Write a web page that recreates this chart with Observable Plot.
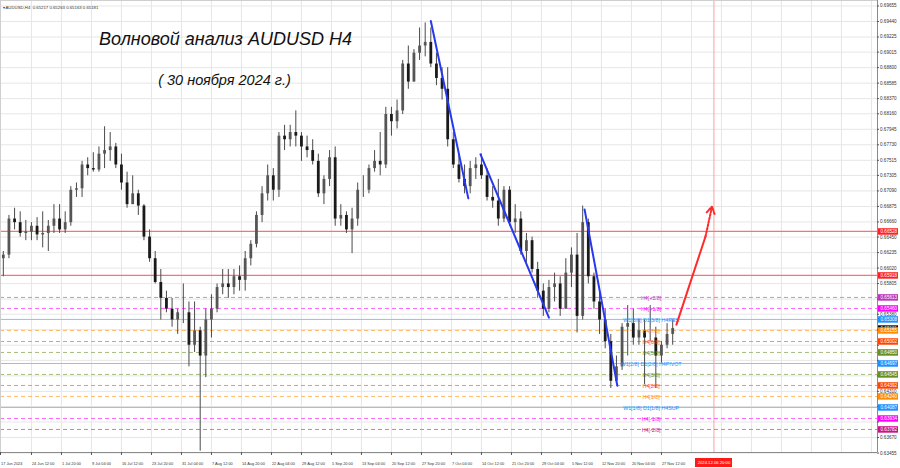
<!DOCTYPE html>
<html><head><meta charset="utf-8">
<script src="https://cdn.jsdelivr.net/npm/d3@7"></script>
<script src="https://cdn.jsdelivr.net/npm/@observablehq/plot@0.6"></script>
<style>html,body{margin:0;padding:0;background:#fff;overflow:hidden}</style>
</head><body><div id="chart"></div>
<script>
// ---- daily OHLC (one candle per trading day from 17 Jun 2024) ----
const opens  = [.6615,.6620,.6670,.6665,.6650,.6652,.6660,.6648,.6650,.6660,.6670,.6655,.6665,.6710,.6712,.6745,.6740,.6738,.6760,.6765,.6770,.6745,.6720,.6690,.6705,.6688,.6645,.6615,.6582,.6560,.6545,.6530,.6540,.6540,.6495,.6515,.6480,.6530,.6545,.6575,.6580,.6575,.6590,.6585,.6615,.6635,.6675,.6705,.6730,.6710,.6785,.6780,.6790,.6785,.6770,.6765,.6750,.6705,.6725,.6755,.6670,.6675,.6655,.6670,.6710,.6710,.6740,.6750,.6745,.6815,.6805,.6820,.6885,.6860,.6900,.6910,.6915,.6885,.6865,.6850,.6780,.6745,.6725,.6715,.6740,.6745,.6730,.6700,.6695,.6670,.6710,.6665,.6670,.6625,.6640,.6600,.6570,.6545,.6575,.6580,.6545,.6595,.6620,.6535,.6665,.6590,.6555,.6530,.6500,.6445,.6465,.6520,.6525,.6505,.6515,.6505,.6505,.6480,.6495,.6510];
const highs  = [.6625,.6675,.6685,.6680,.6668,.6665,.6672,.6680,.6668,.6690,.6690,.6680,.6715,.6720,.6750,.6755,.6762,.6770,.6798,.6790,.6775,.6760,.6735,.6730,.6710,.6690,.6655,.6625,.6600,.6570,.6560,.6545,.6580,.6555,.6555,.6520,.6545,.6565,.6580,.6600,.6600,.6600,.6605,.6625,.6640,.6680,.6715,.6745,.6740,.6790,.6800,.6800,.6820,.6790,.6785,.6780,.6760,.6730,.6765,.6770,.6690,.6680,.6685,.6720,.6730,.6745,.6765,.6790,.6825,.6825,.6835,.6890,.6910,.6905,.6935,.6942,.6935,.6900,.6880,.6880,.6790,.6760,.6745,.6750,.6755,.6760,.6740,.6715,.6725,.6715,.6715,.6690,.6680,.6650,.6645,.6610,.6580,.6585,.6595,.6590,.6615,.6630,.6650,.6688,.6670,.6595,.6570,.6545,.6510,.6480,.6525,.6550,.6545,.6530,.6530,.6550,.6520,.6500,.6525,.6530];
const lows   = [.6590,.6615,.6655,.6645,.6640,.6640,.6640,.6630,.6625,.6650,.6650,.6650,.6660,.6700,.6700,.6730,.6735,.6735,.6740,.6750,.6740,.6710,.6685,.6690,.6675,.6640,.6610,.6580,.6530,.6540,.6520,.6510,.6525,.6465,.6485,.6348,.6450,.6505,.6540,.6565,.6560,.6565,.6570,.6570,.6605,.6630,.6665,.6695,.6695,.6700,.6765,.6770,.6770,.6750,.6755,.6745,.6700,.6690,.6715,.6660,.6660,.6650,.6622,.6660,.6700,.6705,.6735,.6730,.6740,.6785,.6795,.6815,.6850,.6860,.6890,.6895,.6880,.6855,.6835,.6770,.6740,.6720,.6705,.6705,.6725,.6725,.6695,.6685,.6660,.6665,.6660,.6650,.6620,.6610,.6595,.6560,.6535,.6540,.6555,.6535,.6545,.6575,.6512,.6530,.6580,.6545,.6510,.6490,.6435,.6440,.6460,.6480,.6495,.6495,.6440,.6500,.6435,.6470,.6490,.6495];
const closes = [.6620,.6670,.6665,.6650,.6652,.6660,.6648,.6650,.6660,.6670,.6655,.6665,.6710,.6712,.6745,.6740,.6738,.6760,.6765,.6770,.6745,.6720,.6690,.6705,.6688,.6645,.6615,.6582,.6560,.6545,.6530,.6540,.6540,.6495,.6515,.6480,.6530,.6545,.6575,.6580,.6575,.6590,.6585,.6615,.6635,.6675,.6705,.6730,.6710,.6785,.6780,.6790,.6785,.6770,.6765,.6750,.6705,.6725,.6755,.6670,.6675,.6655,.6670,.6710,.6710,.6740,.6750,.6745,.6815,.6805,.6820,.6885,.6860,.6900,.6910,.6915,.6885,.6865,.6850,.6780,.6745,.6725,.6715,.6740,.6745,.6730,.6700,.6695,.6670,.6710,.6665,.6670,.6625,.6640,.6600,.6570,.6545,.6575,.6580,.6545,.6595,.6620,.6535,.6665,.6590,.6555,.6530,.6500,.6445,.6465,.6520,.6525,.6505,.6515,.6505,.6505,.6480,.6495,.6510,.65181];

// ---- time axis (H4 bar numbers counted from 17 Jun 2024 00:00) ----
const timeLabels = ["17 Jun 2024","24 Jun 12:00","1 Jul 20:00","9 Jul 04:00","16 Jul 12:00","23 Jul 20:00","31 Jul 04:00","7 Aug 12:00","14 Aug 20:00","22 Aug 04:00","29 Aug 12:00","5 Sep 20:00","13 Sep 04:00","20 Sep 12:00","27 Sep 20:00","7 Oct 04:00","14 Oct 12:00","21 Oct 20:00","29 Oct 04:00","5 Nov 12:00","12 Nov 20:00","20 Nov 04:00","27 Nov 12:00"];
const timeBars = [0,33,65,97,129,161,193,225,257,289,321,353,385,417,449,481,513,545,577,609,641,673,705];
const futureGridBars = [737,769,801,833,865,897,929];
const futureBar = 761, futureLabel = "2024.12.06 20:00";

// ---- price axis ----
const priceTicks = [0.69655,0.69440,0.69225,0.69015,0.68800,0.68585,0.68370,0.68160,0.67945,0.67730,0.67515,0.67305,0.67090,0.66875,0.66660,0.66450,0.66235,0.66020,0.65805,0.65590,0.65380,0.65165,0.64950,0.64740,0.64525,0.64310,0.64100,0.63885,0.63670,0.63455];

// ---- levels ----
const levelPrices = [0.66528,0.65918,0.65613,0.65460,0.65308,0.65155,0.65002,0.64850,0.64697,0.64545,0.64392,0.64240,0.64087,0.63934,0.63782];
const levelNames  = ["W","W","H4[+2/8]","H4[+1/8]","W1[3/8] D1[3/8] H4RES","H4[7/8]","H4[6/8]","H4[5/8]","W1[2/8] D1[2/8] H4PIVOT","H4[3/8]","H4[2/8]","H4[1/8]","W1[1/8] D1[1/8] H4SUP","H4[-1/8]","H4[-2/8]"];
const lastPrice = 0.65181;

// ---- wave markup (bar, price) ----
const waveBars   = [459,499, 512,585, 623,658];
const wavePrices = [0.69447,0.66987, 0.67598,0.65333, 0.66834,0.64387];
const waveIds    = [1,1,2,2,3,3];
const projBars   = [721,752,759];
const projPrices = [0.65235,0.66458,0.66875];

// ---------------- styling ----------------
function levelColor(n){
  if (n === "W") return "#ff2020";
  if (n.startsWith("W1")) return "#1e90ff";
  if (n.includes("+2/8]")) return "#bb36bb";
  if (n.includes("-2/8]")) return "#c71585";
  if (n.includes("+1/8]") || n.includes("-1/8]")) return "#ff00ff";
  if (n.includes("[7/8]") || n.includes("[1/8]")) return "#ff8c00";
  if (n.includes("[6/8]") || n.includes("[2/8]")) return "#ff4500";
  return "#6b8e23";
}
const pale = (c, t) => d3.interpolateRgb(c, "#ffffff")(t);
const levels = levelPrices.map((p,i)=>{
  const name = levelNames[i];
  const color = levelColor(name);
  const dashed = !(name==="W" || name.startsWith("W1"));
  return {p, name, color, dashed, line: name==="W" ? "#ff7070" : pale(color, dashed ? 0.4 : 0.45)};
});
const candles = opens.map((o,i)=>({bar: 6*i+3, o, h: highs[i], l: lows[i], c: closes[i]}));
const waves = waveBars.map((b,i)=>({bar: b, p: wavePrices[i], id: waveIds[i]}));

const W = 900, H = 468, mR = 23, mB = 16;
const plotW = W - mR, plotH = H - mB;
const barPx = 0.9375;
const xMax = plotW / barPx;
const pxPerUnit = 7210;
const yTop = 0.69655 + 5.5 / pxPerUnit;
const yBot = yTop - plotH / pxPerUnit;
const bx = px => px / barPx;           // pixel -> bar units (for annotation boxes)
const py = px => yTop - px / pxPerUnit; // pixel -> price units
const small = "Liberation Sans, Arial, sans-serif";
const labelMap = new Map(timeBars.map((b,i)=>[b, timeLabels[i]]));

const boxes = [{p: lastPrice, color: "#000000", text: lastPrice.toFixed(5)}]
  .concat(levels.map(d=>({p: d.p, color: d.color, text: d.p.toFixed(5)})));
const tickMin = 5 / pxPerUnit;
const visibleTicks = priceTicks.filter(t => boxes.every(b => Math.abs(b.p - t) >= tickMin));

const levelMarks = levels.map(d => Plot.ruleY([d.p], {y: v => v, stroke: d.line, strokeWidth: d.name === "W" ? 1.2 : 1, strokeDasharray: d.dashed ? "4,3" : null}));
const levelLabelMarks = levels.filter(d => d.name !== "W").map(d =>
  Plot.text([d.p], {x: () => 694, y: v => v, text: () => d.name, fill: d.color, fontSize: 5.3, dy: 0.5}));
const boxMarks = boxes.flatMap(d => [
  Plot.ruleY([d.p], {y: v => v, x1: () => bx(878), x2: () => bx(898), stroke: d.color, strokeWidth: 6.5}),
  Plot.text([d.p], {x: () => bx(880), y: v => v, text: () => d.text, textAnchor: "start", fontSize: 4.6, fill: "#fff"})
]);

const chart = Plot.plot({
  width: W, height: H,
  marginLeft: 0, marginRight: mR, marginTop: 0, marginBottom: mB,
  style: {background: "#fff", fontFamily: small, overflow: "visible"},
  x: {type: "linear", domain: [0, xMax], axis: null},
  y: {type: "linear", domain: [yBot, yTop], axis: null},
  marks: [
    // grid
    Plot.ruleY(priceTicks, {y: d => d, stroke: "#e6e6e6", strokeWidth: 1}),
    Plot.ruleX(timeBars.concat(futureGridBars), {x: d => d, stroke: "#e6e6e6", strokeWidth: 1}),
    // future time marker
    Plot.ruleX([futureBar], {x: d => d, stroke: "#f5a3a3", strokeWidth: 1}),
    // levels
    ...levelMarks,
    // candles
    Plot.ruleX(candles, {x: "bar", y1: "l", y2: "h", stroke: "#4a4a4a", strokeWidth: 1}),
    Plot.ruleX(candles.filter(d => d.c >= d.o), {x: "bar", y1: "o", y2: "c", stroke: "#555555", strokeWidth: 2.8}),
    Plot.ruleX(candles.filter(d => d.c < d.o), {x: "bar", y1: "o", y2: "c", stroke: "#1a1a1a", strokeWidth: 2.8}),
    // level labels
    ...levelLabelMarks,
    // wave lines
    Plot.line(waves, {x: "bar", y: "p", z: "id", stroke: "#2638f0", strokeWidth: 2}),
    Plot.line(projBars.slice(0,2).map((b,i)=>({b, p: projPrices[i]})), {x: "b", y: "p", stroke: "#ff2a2a", strokeWidth: 2}),
    Plot.arrow([{x1: projBars[1], y1: projPrices[1], x2: projBars[2], y2: projPrices[2]}], {x1: "x1", y1: "y1", x2: "x2", y2: "y2", stroke: "#ff2a2a", strokeWidth: 2, strokeDasharray: "2,1.5", headLength: 6}),
    // frame
    Plot.ruleX([xMax], {x: d => d, stroke: "#8a8a8a"}),
    Plot.ruleY([yBot], {y: d => d, stroke: "#8a8a8a"}),
    Plot.ruleY([yTop], {y: d => d, stroke: "#cfcfcf"}),
    Plot.ruleX([0], {x: d => d, stroke: "#cfcfcf"}),
    // right price axis
    Plot.ruleY(priceTicks, {y: d => d, x1: () => xMax, x2: () => xMax + bx(2), stroke: "#555"}),
    Plot.text(visibleTicks, {x: () => xMax + bx(2.5), y: d => d, text: d => d.toFixed(5), textAnchor: "start", fontSize: 4.6, fill: "#333"}),
    ...boxMarks,
    // time axis
    Plot.ruleX(timeBars, {x: d => d, y1: () => py(plotH), y2: () => py(plotH + 3), stroke: "#555"}),
    Plot.text(timeBars, {x: d => d, y: () => py(plotH + 11), text: d => labelMap.get(d), textAnchor: "start", dx: 0.5, fontSize: 3.9, fill: "#333"}),
    Plot.rect([futureBar], {x1: () => bx(695), x2: () => bx(732), y1: () => py(458), y2: () => py(467), fill: "#ff1a1a"}),
    Plot.text([futureBar], {x: d => d, y: () => py(462.5), text: () => futureLabel, fontSize: 4.2, fill: "#fff"}),
    // header & titles
    Plot.text(["▾ AUDUSD,H4  0.65217 0.65263 0.65163 0.65181"], {frameAnchor: "top-left", dx: 2, dy: 5, textAnchor: "start", fontSize: 4.3, fill: "#333"}),
    Plot.text(["Волновой анализ AUDUSD H4"], {frameAnchor: "top-left", dx: 225, dy: 32, textAnchor: "middle", fontSize: 18, fontStyle: "italic", fill: "#111"}),
    Plot.text(["( 30 ноября 2024 г.)"], {frameAnchor: "top-left", dx: 224, dy: 74, textAnchor: "middle", fontSize: 14.5, fontStyle: "italic", fill: "#111"})
  ]
});
document.getElementById("chart").appendChild(chart);
</script>
</body></html>
